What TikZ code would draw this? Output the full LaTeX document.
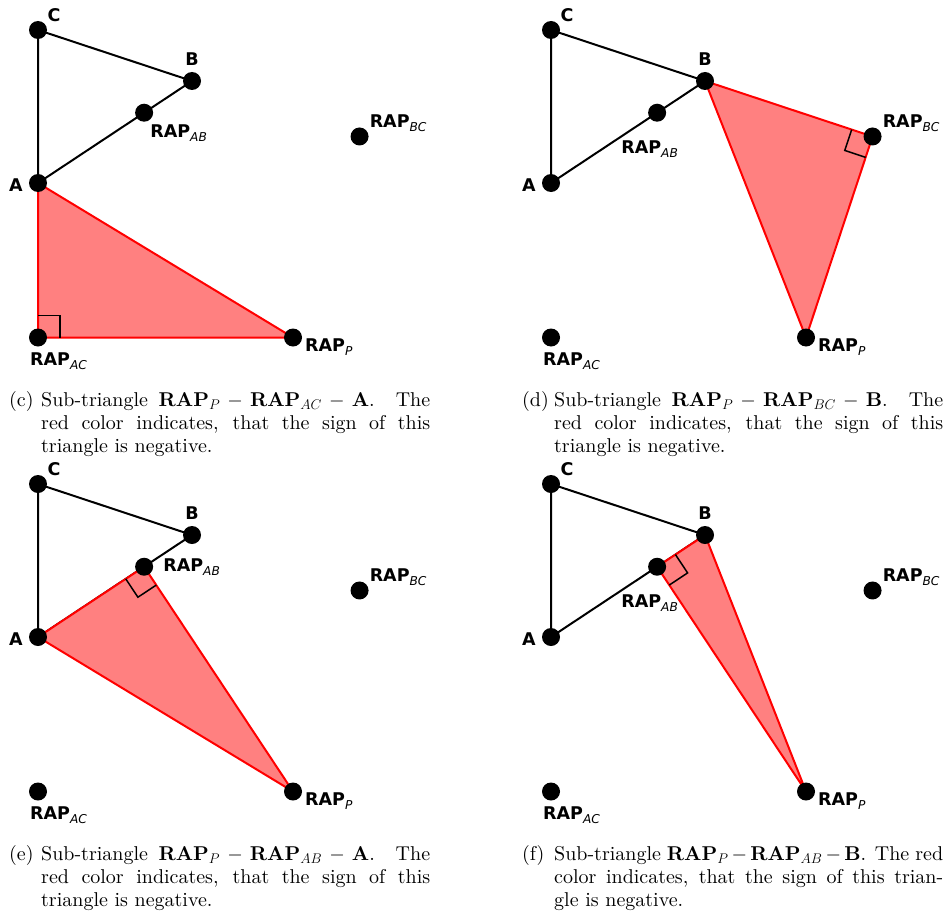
\RequirePackage{fix-cm}
\documentclass[tikz,border=0pt]{standalone}
\usepackage{fontspec}
\setmainfont{lmroman10-regular.otf}[BoldFont=lmroman10-bold.otf,ItalicFont=lmroman10-italic.otf,BoldItalicFont=lmroman10-bolditalic.otf]
\newfontfamily\labfont{DejaVu Sans}
\usetikzlibrary{calc}

\tikzset{
  ptdot/.style={circle,fill=black,inner sep=0pt,minimum size=18pt},
  blackedge/.style={line width=2pt,black,line join=round},
  negtri/.style={fill=red!50,draw=red,line width=2pt,line join=round},
  ramark/.style={line width=1.5pt,black},
  ptlab/.style={font=\fontsize{17.5}{20}\labfont\bfseries,inner sep=0pt},
  raplab/.style={ptlab,anchor=base west},
  capnode/.style={text width=389pt,align=justify,inner sep=0pt,anchor=base west,
    font=\fontsize{20}{23}\selectfont},
  capletter/.style={inner sep=0pt,anchor=base west,font=\fontsize{20}{23}\selectfont}
}
\newcommand\rapsub[1]{RAP\raisebox{-4pt}{\fontsize{12.2}{14}\selectfont\mdseries\itshape #1}}

% points and black triangle
\newcommand\mkpts[2]{%
  \begin{scope}[shift={#2}]
    \coordinate (#1A) at (38,183);
    \coordinate (#1B) at (192,81);
    \coordinate (#1C) at (38,30);
    \coordinate (#1P) at (293,337.5);
  \end{scope}
  \coordinate (#1AB) at ($(#1A)!(#1P)!(#1B)$);
  \coordinate (#1BC) at ($(#1B)!(#1P)!(#1C)$);
  \coordinate (#1AC) at ($(#1A)!(#1P)!(#1C)$);
  \draw[blackedge] (#1A) -- (#1C) -- (#1B) -- (#1A);
}
% right-angle mark at #2 between directions to #3 and #4
\newcommand\mkright[4]{%
  \coordinate (#1ra1) at ($(#2)!22pt!(#3)$);
  \coordinate (#1ra2) at ($(#2)!22pt!(#4)$);
  \draw[ramark] (#1ra1) -- ($(#1ra1)+(#1ra2)-(#2)$) -- (#1ra2);
}
% dots and labels; #2 = offset of the RAP_AB label
\newcommand\mkdots[2]{%
  \foreach \n in {A,B,C,P,AB,BC,AC} {\node[ptdot] (#1\n dot) at (#1\n) {};}
  \node[ptlab] (#1Clab) at ($(#1C)+(16,-15)$) {C};
  \node[ptlab] (#1Blab) at ($(#1B)+(0,-22)$) {B};
  \node[ptlab] (#1Alab) at ($(#1A)+(-22,2)$) {A};
  \node[raplab] (#1AClab) at ($(#1AC)+(-8,27.5)$) {\rapsub{AC}};
  \node[raplab] (#1Plab) at ($(#1P)+(12,13.5)$) {\rapsub{P}};
  \node[raplab] (#1BClab) at ($(#1BC)+(10,-8.5)$) {\rapsub{BC}};
  \node[raplab] (#1ABlab) at ($(#1AB)+#2$) {\rapsub{AB}};
}

\begin{document}
\begin{tikzpicture}[x=1pt,y=-1pt]
\useasboundingbox (0,0) rectangle (949,915);

% ---------- (c)
\mkpts{c}{(0,0)}
\draw[negtri] (cP) -- (cAC) -- (cA) -- cycle;
\mkright{c}{cAC}{cA}{cP}
\mkdots{c}{(6,24.5)}
\node[capletter] (ccapl) at (9,406) {(c)};
\node[capnode] (ccap) at (41,406) {Sub-triangle $\mathbf{RAP}_P - \mathbf{RAP}_{AC} - \mathbf{A}$. The\linebreak red color indicates, that the sign of this\linebreak triangle is negative.};

% ---------- (d)
\mkpts{d}{(513,0)}
\draw[negtri] (dP) -- (dBC) -- (dB) -- cycle;
\mkright{d}{dBC}{dB}{dP}
\mkdots{d}{(-36,40.5)}
\node[capletter] (dcapl) at (522,406) {(d)};
\node[capnode] (dcap) at (554,406) {Sub-triangle $\mathbf{RAP}_P - \mathbf{RAP}_{BC} - \mathbf{B}$. The\linebreak red color indicates, that the sign of this\linebreak triangle is negative.};

% ---------- (e)
\mkpts{e}{(0,454)}
\draw[negtri] (eP) -- (eAB) -- (eA) -- cycle;
\mkright{e}{eAB}{eA}{eP}
\mkdots{e}{(19,4.5)}
\node[capletter] (ecapl) at (9,860) {(e)};
\node[capnode] (ecap) at (41,860) {Sub-triangle $\mathbf{RAP}_P - \mathbf{RAP}_{AB} - \mathbf{A}$. The\linebreak red color indicates, that the sign of this\linebreak triangle is negative.};

% ---------- (f)
\mkpts{f}{(513,454)}
\draw[negtri] (fP) -- (fAB) -- (fB) -- cycle;
\mkright{f}{fAB}{fB}{fP}
\mkdots{f}{(-36,40.5)}
\node[capletter] (fcapl) at (522,860) {(f)};
\node[capnode] (fcap) at (554,860) {Sub-triangle $\mathbf{RAP}_P - \mathbf{RAP}_{AB} - \mathbf{B}$. The red\linebreak color indicates, that the sign of this trian-\linebreak gle is negative.};
\end{tikzpicture}
\end{document}
